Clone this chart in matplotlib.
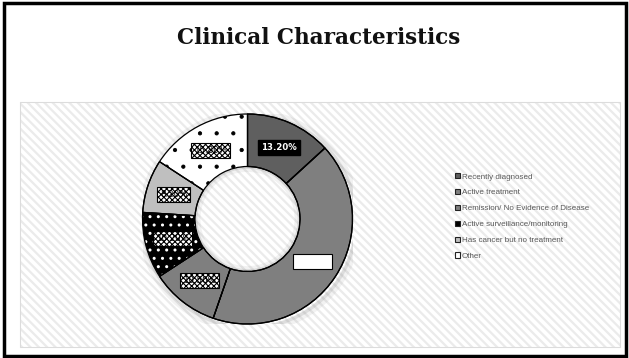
import numpy as np
import matplotlib.pyplot as plt
from matplotlib.patches import Rectangle, Circle, Patch

# data
categories = ['Recently diagnosed', 'Active treatment',
              'Remission/ No Evidence of Disease',
              'Active surveillance/monitoring',
              'Has cancer but no treatment', 'Other']
values = [13.2, 42.1, 10.5, 10.2, 8.2, 15.8]
labels = ['13.20%', '42.10%', '10.50%', '10.20%', '8.20%', '15.80%']

faces = ['#5f5f5f', '#7f7f7f', '#7f7f7f', '#000000', '#bfbfbf', '#ffffff']
hatches = [None, None, None, '..', None, '.']
hatch_cols = [None, None, None, '#ffffff', None, '#000000']
hatch_lws = [None, None, None, 1.0, None, 0.6]

W, H = 629, 358
fig = plt.figure(figsize=(W / 100, H / 100), dpi=100)
fig.patch.set_facecolor('white')

# slide border
fig.patches.append(Rectangle((4 / W, 2 / H), 622 / W, 353 / H, transform=fig.transFigure,
                             fill=False, edgecolor='black', linewidth=2.5, zorder=-5))

# striped chart area
plt.rcParams['hatch.linewidth'] = 1.6
fig.patches.append(Rectangle((20 / W, 11 / H), 600 / W, 245 / H, transform=fig.transFigure,
                             facecolor='white', edgecolor='#ebebeb', hatch='\\\\\\\\',
                             linewidth=0, zorder=-5))
fig.patches.append(Rectangle((20 / W, 11 / H), 600 / W, 245 / H, transform=fig.transFigure,
                             fill=False, edgecolor='#dcdcdc', linewidth=0.8, zorder=-4))
plt.rcParams['hatch.linewidth'] = 0.8

fig.text(0.506, 0.894, 'Clinical Characteristics', ha='center', va='center',
         fontsize=15.5, fontweight='bold', family='DejaVu Serif', color='#111111')

# donut
cx, cy, R = 247.5, 219, 105
ax = fig.add_axes([(cx - R) / W, (H - cy - R) / H, 2 * R / W, 2 * R / H])
ax.patch.set_alpha(0)

wedges, _ = ax.pie(values, startangle=90, counterclock=False, radius=1,
                   colors=faces, wedgeprops=dict(width=0.5, edgecolor='black', linewidth=0.9))
for w, h, hc, hl in zip(wedges, hatches, hatch_cols, hatch_lws):
    if h:
        w.set_linewidth(0)
        w.set_edgecolor(hc)
        w.set_hatch(h)
        if hasattr(w, 'set_hatch_linewidth'):
            w.set_hatch_linewidth(hl)
# outlines on top
ax.pie(values, startangle=90, counterclock=False, radius=1,
       colors=['none'] * len(values),
       wedgeprops=dict(width=0.5, edgecolor='black', linewidth=0.9, fill=False))

# soft shadow
for r, lw, a in [(1.035, 5, 0.10), (1.015, 2.5, 0.18)]:
    ax.add_patch(Circle((0.02, -0.02), r, fill=False, edgecolor='#808080', linewidth=lw,
                        alpha=a, zorder=0))
for r, lw, a in [(0.475, 4, 0.10), (0.49, 2, 0.18)]:
    ax.add_patch(Circle((0.0, 0.0), r, fill=False, edgecolor='#808080', linewidth=lw,
                        alpha=a, zorder=0))

ax.set_xlim(-1.0, 1.0)
ax.set_ylim(-1.0, 1.0)
ax.axis('off')

cum = np.cumsum([0] + values)
for i, lab in enumerate(labels):
    mid = 90 - (cum[i] + values[i] / 2) / 100 * 360
    x = 0.74 * np.cos(np.radians(mid))
    y = 0.74 * np.sin(np.radians(mid))
    if i == 0:
        ax.text(x, y, lab, ha='center', va='center', fontsize=6.2, fontweight='bold',
                color='white', bbox=dict(boxstyle='square,pad=0.35', facecolor='black',
                                         edgecolor='black'))
    elif i == 1:
        ax.text(x, y, lab, ha='center', va='center', fontsize=6.2, color='white',
                bbox=dict(boxstyle='square,pad=0.35', facecolor='white', edgecolor='black',
                          linewidth=0.8))
    else:
        ax.text(x, y, lab, ha='center', va='center', fontsize=6.2, color='black',
                bbox=dict(boxstyle='square,pad=0.35', facecolor='white', edgecolor='black',
                          hatch='xxxxxx', linewidth=0.8))

handles = [Patch(facecolor=c, edgecolor='#222222', linewidth=0.8) for c in faces]
leg = fig.legend(handles, categories, loc='upper left',
                 bbox_to_anchor=(452 / W, 1 - 170 / H), frameon=False,
                 prop={'family': 'Liberation Sans', 'size': 5.8},
                 labelcolor='#595959', handlelength=0.6, handleheight=0.6,
                 handletextpad=0.2, labelspacing=1.05, borderaxespad=0)

fig.savefig('out.png', dpi=100)
